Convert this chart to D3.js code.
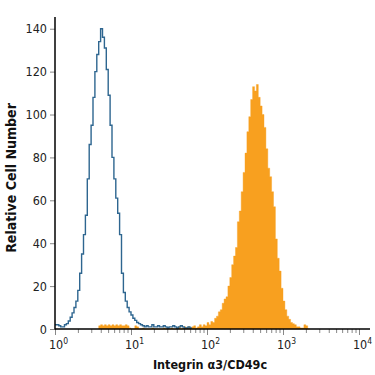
<!DOCTYPE html>
<meta charset="utf-8">
<style>
body { margin: 0; background: #fff; }
text { font-family: "Liberation Sans Narrow", "DejaVu Sans Condensed", sans-serif; }
</style>
<body>
<script src="https://d3js.org/d3.v7.min.js"></script>
<script>

// histogram bins, width in log10 units
var binWidth = 0.025;

// isotype control (blue outline), first bin starts at 10^0
var blueStart = 0;
var blueCounts = [2, 2, 1.5, 1, 1, 2, 2.5, 3.7, 5.5, 7.5, 10, 13, 18, 26, 35, 44, 53, 70, 86, 95,
  108, 120, 128, 134, 140, 136, 131, 121, 109, 95, 80, 70, 61, 54, 44, 26, 17, 13, 10, 8,
  6.5, 5, 4, 3, 2.5, 2, 1.5, 1, 1.5, 1, 1, 2, 1, 1, 1.5, 1, 1, 1.5, 1, 0.5,
  1, 1, 1.5, 1, 0.5, 1, 1.5, 1, 0.5, 0.5, 1, 0.5];

// antibody stained (orange fill)
var orangeStart = 0.575;
var orangeCounts = [1.5, 2, 1.5, 2, 1.5, 2, 1.5, 2, 1.5, 2, 1.5, 2, 1.5, 1.5, 2, 1.5,
  0.5, 0, 0, 1.5, 1, 0, 0, 0.5, 0, 0, 0, 0, 0.5, 0, 0, 0, 0, 0, 0.5, 0, 0, 0, 0.5, 0,
  0, 0.5, 1, 0, 0.5, 1, 0.5, 1, 0.5, 1, 1.5, 0.5, 1, 2, 1, 2, 1.5, 3, 2, 3.5,
  3, 5, 6, 8, 9, 12, 14, 15, 20, 24, 30, 34, 38, 50, 55, 64, 73, 82, 92, 99,
  107, 113, 111, 114, 108, 104, 100, 94, 84, 75, 71, 64, 57, 42, 33, 27, 19, 13, 9, 6,
  4.5, 3, 2.5, 2, 1, 1, 0.5, 0.5, 2, 1.5, 0];

var yTicks = [0, 20, 40, 60, 80, 100, 120, 140];
var xMajor = [1, 10, 100, 1000, 10000];

var width = 375, height = 375;

var svg = d3.select("body").append("svg")
  .attr("width", width)
  .attr("height", height);

var x = d3.scaleLog().domain([1, 10000]).range([55, 359]);
var y = d3.scaleLinear().domain([0, 145]).range([329, 18]);

function toPoints(start, counts) {
  var pts = counts.map(function(c, i) {
    return { v: Math.pow(10, start + i * binWidth), c: c };
  });
  pts.push({ v: Math.pow(10, start + counts.length * binWidth), c: counts[counts.length - 1] });
  return pts;
}

var orangeArea = d3.area()
  .curve(d3.curveStepAfter)
  .x(function(d) { return x(d.v); })
  .y0(y(0))
  .y1(function(d) { return y(d.c); });

svg.append("path")
  .datum(toPoints(orangeStart, orangeCounts))
  .attr("d", orangeArea)
  .attr("fill", "#f8a01f")
  .attr("stroke", "#f8a01f")
  .attr("stroke-width", 0.4);

var blueLine = d3.line()
  .curve(d3.curveStepAfter)
  .x(function(d) { return x(d.v); })
  .y(function(d) { return y(d.c); });

svg.append("path")
  .datum(toPoints(blueStart, blueCounts))
  .attr("d", blueLine)
  .attr("fill", "none")
  .attr("stroke", "#2e6690")
  .attr("stroke-width", 1.4);

// y axis
var yAxis = svg.append("g")
  .attr("transform", "translate(55,0)")
  .call(d3.axisLeft(y).tickValues(yTicks).tickSize(5).tickPadding(3));
yAxis.select(".domain").remove();
yAxis.selectAll(".tick line").attr("stroke", "#888");
yAxis.selectAll(".tick text")
  .attr("fill", "#222")
  .style("font-size", "12.5px");

// x axis: minor ticks then majors with labels
var minor = [];
[1, 10, 100, 1000].forEach(function(d) {
  for (var k = 2; k < 10; k++) minor.push(d * k);
});

var xMinor = svg.append("g")
  .attr("transform", "translate(0,329)")
  .call(d3.axisBottom(x).tickValues(minor).tickSize(4).tickFormat(""));
xMinor.select(".domain").remove();
xMinor.selectAll(".tick line").attr("stroke", "#888");

var xAxis = svg.append("g")
  .attr("transform", "translate(0,329)")
  .call(d3.axisBottom(x).tickValues(xMajor).tickSize(6).tickFormat(""));
xAxis.select(".domain").remove();
xAxis.selectAll(".tick line").attr("stroke", "#888");

var lbl = xAxis.selectAll(".tick").append("text")
  .attr("y", 20)
  .attr("fill", "#222")
  .attr("text-anchor", "middle")
  .style("font-size", "12.5px");
lbl.append("tspan").text("10");
lbl.append("tspan")
  .attr("dy", -5)
  .style("font-size", "8.5px")
  .text(function(d) { return Math.round(Math.log10(d)); });
lbl.attr("dx", 3);

// axis lines
svg.append("line")
  .attr("x1", 55).attr("x2", 55)
  .attr("y1", 17).attr("y2", 329.5)
  .attr("stroke", "#000").attr("stroke-width", 1.5);
svg.append("line")
  .attr("x1", 55).attr("x2", 370)
  .attr("y1", 329).attr("y2", 329)
  .attr("stroke", "#000").attr("stroke-width", 1.5);

// titles
svg.append("text")
  .attr("transform", "translate(16,178) rotate(-90)")
  .attr("text-anchor", "middle")
  .style("font-size", "14px")
  .style("font-weight", "bold")
  .attr("fill", "#111")
  .text("Relative Cell Number");

svg.append("text")
  .attr("x", 210)
  .attr("y", 369)
  .attr("text-anchor", "middle")
  .style("font-size", "12.5px")
  .style("font-weight", "bold")
  .attr("fill", "#111")
  .text("Integrin α3/CD49c");

</script>
</body>
